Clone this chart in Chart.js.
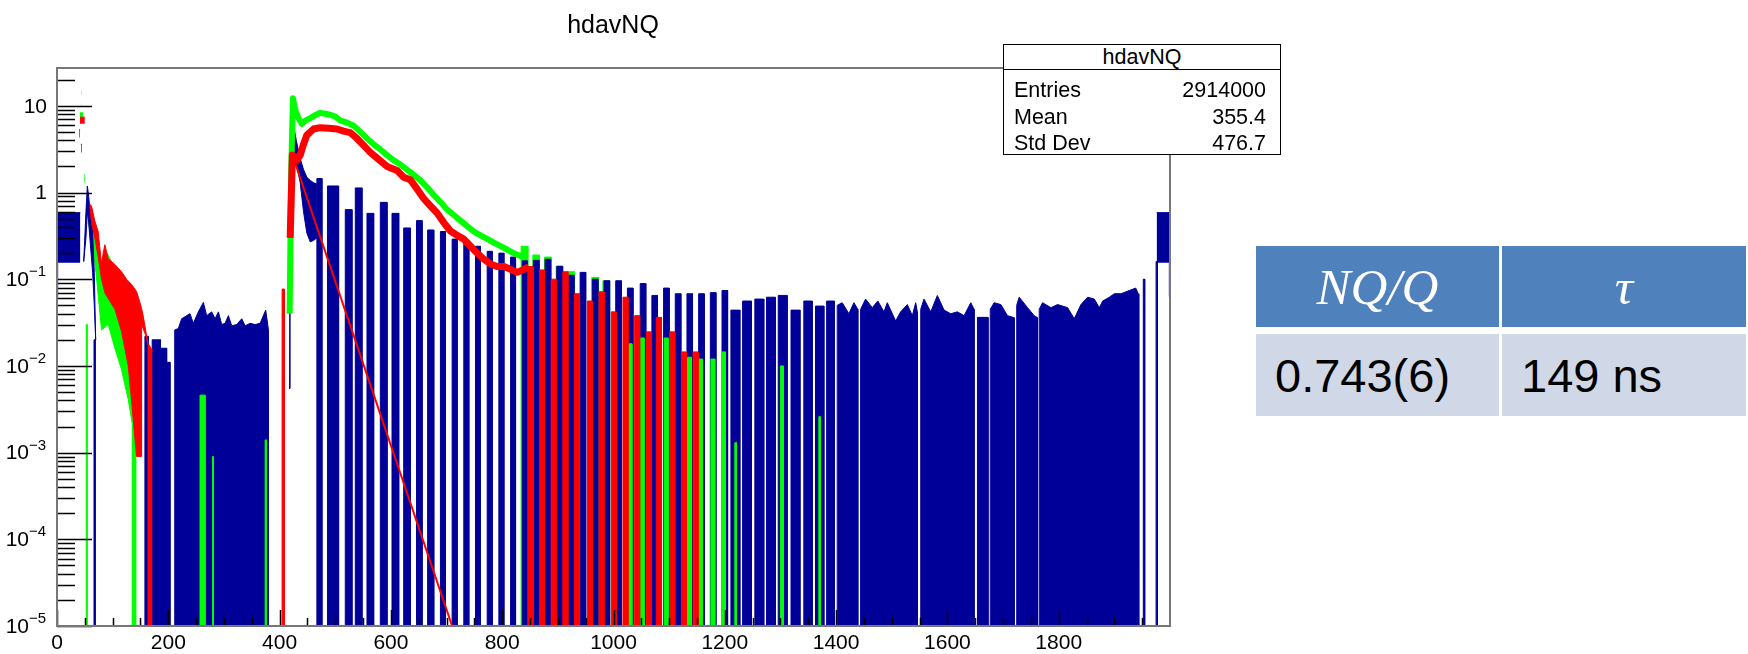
<!DOCTYPE html>
<html>
<head>
<meta charset="utf-8">
<title>hdavNQ</title>
<script src="https://cdn.jsdelivr.net/npm/chart.js@4.4.1/dist/chart.umd.min.js"></script>
<style>
  html, body { margin: 0; padding: 0; background: #fff; }
  body { position: relative; width: 1748px; height: 654px; overflow: hidden; font-family: "Liberation Sans", Arial, sans-serif; color: #000; }
  #plot { position: absolute; left: 0; top: 0; }
  #title { position: absolute; left: 513px; top: 9px; width: 200px; text-align: center; font-size: 25px; line-height: 30px; }
  #stats { position: absolute; left: 1003px; top: 44px; width: 278px; height: 111px; box-sizing: border-box; border: 1.5px solid #000; background: #fff; font-size: 21.5px; }
  #stats .head { height: 23.5px; line-height: 24px; text-align: center; border-bottom: 1.5px solid #000; }
  #stats .row { position: absolute; left: 10px; right: 14px; height: 26px; line-height: 26px; }
  #stats .row span { float: right; }
  #tbl { position: absolute; left: 1256px; top: 246px; width: 490px; height: 170px; }
  .cell { position: absolute; display: flex; align-items: center; box-sizing: border-box; }
  .hd { top: 0; height: 81px; background: #4f81bd; color: #fff; justify-content: center; font-family: "Liberation Serif", serif; font-style: italic; font-size: 51px; }
  .bd { top: 88px; height: 82px; background: #d0d8e8; font-size: 47px; padding-left: 19px; }
  .c1 { left: 0; width: 243px; }
  .c2 { left: 246px; width: 244px; }
</style>
</head>
<body>
<canvas id="plot" width="1748" height="654"></canvas>
<div id="title">hdavNQ</div>
<div id="stats">
  <div class="head">hdavNQ</div>
  <div class="row" style="top:32px">Entries<span>2914000</span></div>
  <div class="row" style="top:59px">Mean<span>355.4</span></div>
  <div class="row" style="top:85px">Std Dev<span>476.7</span></div>
</div>
<div id="tbl">
  <div class="cell hd c1">NQ/Q</div>
  <div class="cell hd c2">τ</div>
  <div class="cell bd c1">0.743(6)</div>
  <div class="cell bd c2">149 ns</div>
</div>
<script>
// below the y range, used as the bottom of columns
const FLOOR = 1e-7;

const xTicks = [0, 200, 400, 600, 800, 1000, 1200, 1400, 1600, 1800];
const yTicks = [1e-5, 1e-4, 1e-3, 1e-2, 1e-1, 1, 10];
const yExponents = [-5, -4, -3, -2, -1, 0, 1];

// ---- blue histogram (hdavNQ) ----
// [x0, x1, low, high]
const blueBoxes = [
    [0.5, 2.5, 0.062, 0.586],
    [1, 42, 0.155, 0.586],
    [40, 41.5, 4.3, 5.3],
    [43, 44.5, 2.9, 3.6],
    [1976, 2000, 0.155, 0.586],
    [1997.5, 2000, 0.063, 0.16]
];
// [x0, x1, top]  columns from the bottom
const blueTeeth = [
    [66.5, 68.5, 0.02], [158, 164, 0.022], [171, 186, 0.02], [186, 197, 0.016], [197, 203, 0.011],
    [467, 476, 1.45], [486, 506, 1.19], [518, 530, 0.635], [536, 548, 1.13], [557, 569, 0.575],
    [581, 593, 0.77], [602, 614, 0.575], [623, 635, 0.39], [646, 656, 0.474], [666, 677, 0.37],
    [689, 698, 0.355], [710, 719, 0.29], [731, 740, 0.278], [752, 761, 0.24], [773, 782, 0.21],
    [794, 803, 0.2], [815, 824, 0.18], [836, 845, 0.163], [856, 866, 0.165], [877, 887, 0.17],
    [898, 908, 0.141], [919, 929, 0.111], [940, 950, 0.12], [962, 972, 0.10], [983, 993, 0.096],
    [1004, 1014, 0.096], [1025, 1035, 0.079], [1048, 1058, 0.089], [1069, 1079, 0.065], [1090, 1100, 0.079],
    [1111, 1121, 0.068], [1132, 1142, 0.068], [1153, 1163, 0.068], [1174, 1184, 0.07], [1195, 1205, 0.074],
    [1211, 1227, 0.044], [1232, 1248, 0.056], [1254, 1270, 0.059], [1275, 1291, 0.062], [1296, 1312, 0.065],
    [1319, 1335, 0.044], [1342, 1357, 0.056], [1363, 1378, 0.049], [1383, 1397, 0.056], [1654, 1673, 0.0363],
    [1952, 1954.5, 0.1], [1975, 1977.5, 0.16]
];
// jagged wide blocks, [x, top]
const blueRidges = [
    [[211, 0.026], [212, 0.026], [218, 0.027], [224, 0.035], [233, 0.038], [239, 0.04], [245, 0.031],
     [254, 0.042], [263, 0.054], [269, 0.038], [278, 0.042], [284, 0.035], [290, 0.042], [296, 0.03],
     [302, 0.031], [308, 0.038], [314, 0.029], [323, 0.03], [332, 0.035], [338, 0.029], [347, 0.031],
     [356, 0.03], [365, 0.031], [375, 0.044], [380, 0.026]],
    [[1402, 0.05], [1411, 0.0536], [1423, 0.040], [1432, 0.0536], [1439, 0.045]],
    [[1444, 0.045], [1453, 0.059], [1465, 0.047], [1475, 0.056], [1486, 0.042], [1492, 0.0536],
     [1507, 0.033], [1516, 0.042], [1528, 0.051], [1537, 0.038], [1543, 0.0536], [1546, 0.042]],
    [[1552, 0.045], [1558, 0.059], [1570, 0.042], [1582, 0.065], [1594, 0.044], [1606, 0.040],
     [1618, 0.042], [1630, 0.038], [1642, 0.0536], [1648, 0.045]],
    [[1677, 0.045], [1684, 0.0536], [1696, 0.051], [1708, 0.038], [1720, 0.036]],
    [[1724.5, 0.05], [1729, 0.062], [1744, 0.047], [1756, 0.038], [1762, 0.036]],
    [[1765, 0.045], [1771, 0.0536], [1786, 0.047], [1798, 0.051], [1816, 0.047], [1828, 0.035],
     [1840, 0.051], [1852, 0.062], [1864, 0.059], [1873, 0.047], [1879, 0.056], [1891, 0.062],
     [1900, 0.068], [1912, 0.068], [1929.5, 0.0753], [1938.5, 0.079], [1943, 0.068], [1944, 0.06]]
];
const bluePeakTop = [[417, 0.0055], [418.5, 0.1], [420, 1.0], [422, 4], [424, 6.5], [426, 5.5], [430, 4],
    [436, 2.6], [443, 1.84], [449, 1.5], [455, 1.38], [461, 1.3], [467, 1.25]];
const bluePeakLow = [[417, 0.0055], [418.5, 0.05], [420, 0.5], [424, 3.0], [431, 2.0], [437, 1.3],
    [443, 0.6], [449, 0.34], [455, 0.27], [461, 0.28], [467, 0.3]];
const blueSpikeTop = [[48, 0.16], [52, 0.6], [54.5, 1.19], [57, 0.9], [60, 0.55], [64, 0.35], [67, 0.12], [69.5, 0.02]];
const blueSpikeLow = [[48, 0.16], [52, 0.3], [54.5, 0.6], [57, 0.45], [60, 0.25], [64, 0.12], [67, 0.05], [69.5, 0.02]];

// ---- red histogram ----
const redBoxes = [[41, 50, 6.2, 7.4], [43.5, 44.5, 13.5, 15.5]];
const redTeeth = [
    [404.5, 408.5, 0.077], [846, 856, 0.14], [867, 876, 0.128], [888, 897, 0.10], [909, 918, 0.122],
    [930, 939, 0.068], [953, 962, 0.056], [974, 983, 0.0716], [996, 1005, 0.042], [1017, 1026, 0.062],
    [1038, 1047, 0.038], [1059, 1068, 0.0247], [1077, 1086, 0.0363], [1101, 1110, 0.0247],
    [1122, 1131, 0.0145], [1143, 1152, 0.0145]
];
const redTailTop = [[59, 0.73], [62, 0.7], [68, 0.47], [74, 0.355], [80, 0.148], [83, 0.2], [86, 0.25],
    [92, 0.172], [104, 0.148], [116, 0.122], [125, 0.1], [134, 0.087], [143, 0.072], [149, 0.054],
    [153.5, 0.042], [158, 0.029], [161, 0.022], [164, 0.018], [171.5, 0.015]];
const redTailLow = [[59, 0.73], [62, 0.45], [68, 0.3], [74, 0.18], [80, 0.1], [86, 0.07], [92, 0.06],
    [104, 0.045], [116, 0.025], [128, 0.01], [134, 0.004], [138, 0.002], [143, 0.0009], [152, 0.0009],
    [152, 0.03], [160, 0.022], [164, 0.017], [164, FLOOR], [171.5, FLOOR]];
const redCurve = [[419, 0.3], [423, 2.7], [427, 2.6], [431, 2.35], [437, 2.7], [443, 3.6], [449, 4.6],
    [461, 5.4], [473, 5.6], [488, 5.5], [503, 5.4], [515, 5.1], [527, 4.9], [539, 4.2], [551, 3.5],
    [563, 2.9], [575, 2.5], [593, 2.0], [611, 1.8], [623, 1.5], [635, 1.4], [647, 1.1], [659, 0.85],
    [671, 0.7], [683, 0.58], [695, 0.45], [707, 0.36], [719, 0.32], [731, 0.29], [743, 0.24],
    [755, 0.2], [767, 0.17], [779, 0.15], [791, 0.14], [803, 0.14], [815, 0.13], [827, 0.12],
    [839, 0.13], [848, 0.14]];
const redFit = [[424, 2.6], [710, 1e-5]];

// ---- green histogram ----
const greenBoxes = [[41, 47, 7.4, 8.3], [43.5, 44.5, 10, 11], [48.5, 50, 1.3, 1.6]];
const greenTeeth = [[834, 846, 0.24], [855, 867, 0.19], [876, 888, 0.18], [897, 909, 0.141],
    [918, 930, 0.122], [961, 973, 0.105], [981, 993, 0.096]];
const greenSpikes = [[52.5, 54, 0.03], [257, 266, 0.0046], [279.5, 281, 0.0009], [374, 376.5, 0.0014],
    [1027, 1033, 0.018], [1048, 1055, 0.021], [1091, 1098, 0.021], [1133, 1140, 0.0126],
    [1153, 1160, 0.012], [1175, 1182, 0.012], [1195, 1201, 0.0145], [1218, 1221, 0.0013],
    [1300, 1305, 0.01], [1369, 1371.5, 0.0026]];
const greenTailTop = [[56, 0.45], [62, 0.5], [70, 0.35], [80, 0.15], [90, 0.2], [100, 0.15],
    [116, 0.11], [128, 0.08], [136, 0.06], [143, 0.05]];
const greenTailLow = [[56, 0.45], [62, 0.3], [70, 0.12], [80, 0.026], [92, 0.03], [104, 0.016],
    [116, 0.009], [128, 0.0041], [135.5, 0.0021], [135.5, FLOOR], [143, FLOOR]];
const greenCurve = [[418, 0.04], [421, 2], [424, 12.2], [428, 9], [434, 7.2], [440, 6.2], [447, 6.8],
    [455, 7.2], [464, 7.8], [473, 8.3], [482, 8.1], [491, 7.9], [500, 7.5], [509, 6.8], [521, 6.4],
    [533, 5.9], [545, 5], [557, 4.2], [569, 3.6], [581, 3.14], [593, 2.7], [605, 2.35], [617, 2.1],
    [629, 1.84], [641, 1.6], [653, 1.38], [665, 1.15], [677, 0.935], [689, 0.78], [701, 0.635],
    [713, 0.55], [725, 0.474], [737, 0.41], [749, 0.355], [761, 0.32], [773, 0.292], [785, 0.265],
    [797, 0.241], [809, 0.22], [821, 0.199], [833, 0.185], [845, 0.2]];

const BLUE = '#000099', RED = '#ff0000', GREEN = '#00ff00';

function pts(list) {
    return list.map(p => ({x: p[0], y: p[1]}));
}
function teethPts(list) {
    let out = [];
    list.forEach(t => {
        out.push({x: t[0], y: FLOOR}, {x: t[0], y: t[2]}, {x: t[1], y: t[2]}, {x: t[1], y: FLOOR});
    });
    return out;
}
function ridgePts(r) {
    return [{x: r[0][0], y: FLOOR}].concat(pts(r), [{x: r[r.length - 1][0], y: FLOOR}]);
}

let datasets = [];
function add(ds) {
    datasets.push(Object.assign({type: 'line', pointRadius: 0, tension: 0, borderWidth: 0, fill: false}, ds));
    return datasets.length - 1;
}
function addColumns(data, color, order) {
    add({data: data, backgroundColor: color, borderColor: color, borderWidth: 1, fill: 'start', order: order});
}
function addBox(b, color, order) {
    add({data: [{x: b[0], y: b[3]}, {x: b[1], y: b[3]}], backgroundColor: color, borderColor: color,
         borderWidth: 1, fill: {value: b[2]}, order: order});
}
function addBand(top, low, color, order) {
    let i = add({data: pts(low), borderColor: color, borderWidth: 1, order: order});
    add({data: pts(top), backgroundColor: color, borderColor: color, borderWidth: 1, fill: i, order: order});
}

// drawing order: lower "order" is on top
add({data: pts(redFit), borderColor: RED, borderWidth: 2, order: 0});
add({data: pts(redCurve), borderColor: RED, borderWidth: 7, borderJoinStyle: 'round', order: 1});
add({data: pts(greenCurve), borderColor: GREEN, borderWidth: 6, borderJoinStyle: 'round', order: 2});

addColumns(teethPts(redTeeth), RED, 3);
addBand(redTailTop, redTailLow, RED, 3);
redBoxes.forEach(b => addBox(b, RED, 3));

addColumns(teethPts(greenSpikes), GREEN, 4);

addColumns(teethPts(blueTeeth), BLUE, 5);
blueRidges.forEach(r => addColumns(ridgePts(r), BLUE, 5));
addBand(bluePeakTop, bluePeakLow, BLUE, 5);
addBand(blueSpikeTop, blueSpikeLow, BLUE, 5);
blueBoxes.forEach(b => addBox(b, BLUE, 5));

addColumns(teethPts(greenTeeth), GREEN, 6);
addBand(greenTailTop, greenTailLow, GREEN, 6);
greenBoxes.forEach(b => addBox(b, GREEN, 6));

// ROOT-like frame with inward ticks and 10^n labels
const rootFrame = {
    id: 'rootFrame',
    afterDatasetsDraw(chart) {
        const ctx = chart.ctx, a = chart.chartArea, x = chart.scales.x, y = chart.scales.y;
        ctx.save();
        ctx.strokeStyle = '#000';
        ctx.lineWidth = 1.5;
        ctx.beginPath();
        for (let d = -5; d <= 1; d++) {
            for (let m = 1; m <= 9; m++) {
                let v = m * Math.pow(10, d);
                if (v > y.max) continue;
                let py = Math.round(y.getPixelForValue(v)) + 0.5;
                ctx.moveTo(a.left, py);
                ctx.lineTo(a.left + (m === 1 ? 35 : 18), py);
            }
        }
        for (let v = 0; v < 2000; v += 50) {
            let px = Math.round(x.getPixelForValue(v)) + 0.5;
            ctx.moveTo(px, a.bottom);
            ctx.lineTo(px, a.bottom - (v % 200 === 0 ? 16 : 8));
        }
        ctx.stroke();
        ctx.strokeStyle = '#777';
        ctx.lineWidth = 2;
        ctx.strokeRect(a.left, a.top, a.right - a.left, a.bottom - a.top);

        ctx.fillStyle = '#000';
        ctx.textBaseline = 'middle';
        yTicks.forEach((v, i) => {
            let py = y.getPixelForValue(v) + 1;
            let e = yExponents[i];
            ctx.font = '21px "Liberation Sans"';
            ctx.textAlign = 'right';
            if (e >= 0) {
                ctx.fillText(e === 0 ? '1' : '10', a.left - 10, py);
            } else {
                ctx.fillText('10', a.left - 28, py);
                ctx.font = '15px "Liberation Sans"';
                ctx.textAlign = 'left';
                ctx.fillText('\u2212' + (-e), a.left - 28, py - 8);
            }
        });
        ctx.restore();
    }
};

new Chart(document.getElementById('plot'), {
    type: 'line',
    data: {datasets: datasets},
    options: {
        responsive: false,
        animation: false,
        devicePixelRatio: 1,
        layout: {padding: {left: 0, right: 578, top: 68, bottom: 0}},
        plugins: {legend: {display: false}, tooltip: {enabled: false}},
        scales: {
            x: {
                type: 'linear', min: 0, max: 2000,
                afterFit: s => { s.height = 28; },
                afterBuildTicks: s => { s.ticks = xTicks.map(v => ({value: v})); },
                grid: {display: false, drawTicks: false},
                border: {display: false},
                ticks: {
                    autoSkip: false, maxRotation: 0, padding: 5, color: '#000',
                    font: {family: 'Liberation Sans', size: 21},
                    callback: v => String(v)
                }
            },
            y: {
                type: 'logarithmic', min: 1e-5, max: 27.3,
                afterFit: s => { s.width = 57; },
                afterBuildTicks: s => { s.ticks = yTicks.map(v => ({value: v})); },
                grid: {display: false, drawTicks: false},
                border: {display: false},
                ticks: {display: false}
            }
        }
    },
    plugins: [rootFrame]
});
</script>
</body>
</html>
